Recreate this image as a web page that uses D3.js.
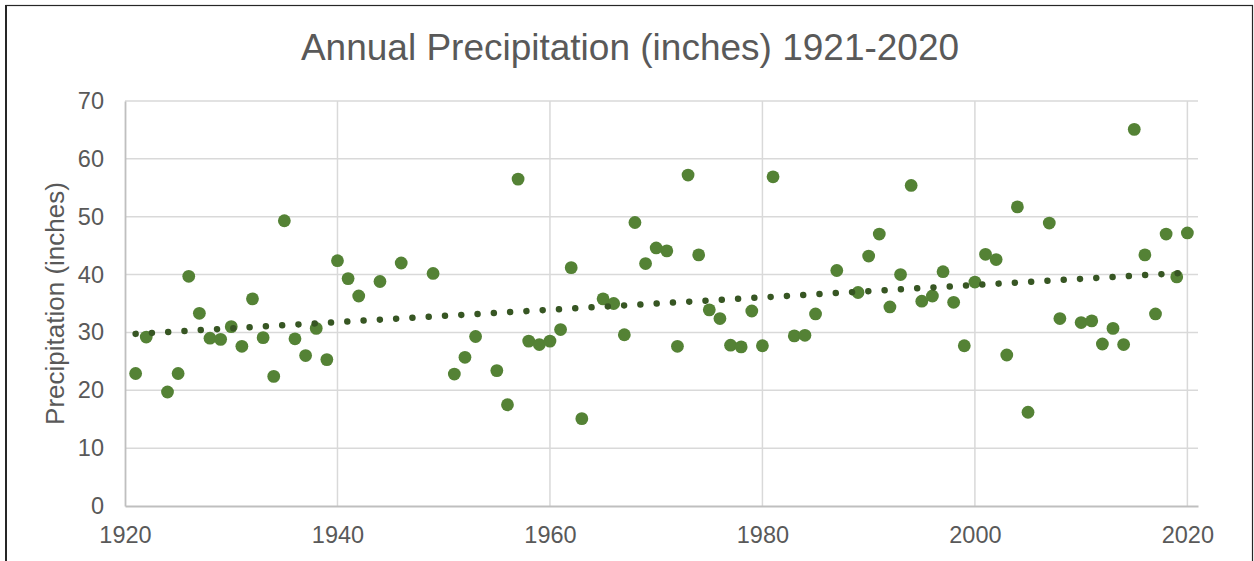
<!DOCTYPE html>
<html>
<head>
<meta charset="utf-8">
<script src="https://cdn.jsdelivr.net/npm/d3@7/dist/d3.min.js"></script>
<style>
  html, body { margin: 0; padding: 0; background: #fff; }
  svg { display: block; font-family: "Liberation Sans", Arial, sans-serif; }
</style>
</head>
<body>
<svg id="chart" width="1254" height="561"></svg>
<script>
const years = [1921,1922,1924,1925,1926,1927,1928,1929,1930,1931,1932,1933,1934,1935,1936,1937,1938,1939,1940,1941,1942,1944,
  1946,1949,1951,1952,1953,1955,1956,1957,1958,1959,1960,1961,1962,1963,1965,1966,1967,1968,1969,1970,1971,1972,
  1973,1974,1975,1976,1977,1978,1979,1980,1981,1983,1984,1985,1987,1989,1990,1991,1992,1993,1994,1995,1996,1997,1998,1999,
  2000,2001,2002,2003,2004,2005,2007,2008,2010,2011,2012,2013,2014,2015,2016,2017,2018,2019,2020];
const precip = [22.9,29.2,19.7,22.9,39.7,33.3,29.0,28.8,31.0,27.6,35.8,29.1,22.4,49.3,28.9,26.0,30.7,25.3,42.4,39.3,36.3,38.8,
  42.0,40.2,22.8,25.7,29.3,23.4,17.5,56.5,28.5,27.9,28.5,30.5,41.2,15.1,35.8,35.0,29.6,49.0,41.9,44.6,44.1,27.6,
  57.2,43.4,33.9,32.4,27.8,27.5,33.7,27.7,56.9,29.4,29.5,33.2,40.7,36.9,43.2,47.0,34.4,40.0,55.4,35.4,36.3,40.5,35.2,27.7,
  38.7,43.5,42.6,26.1,51.7,16.2,48.9,32.4,31.7,32.0,28.0,30.7,27.9,65.1,43.4,33.2,47.0,39.6,47.2];
const xTicks = [1920,1940,1960,1980,2000,2020];
const yTicks = [0,10,20,30,40,50,60,70];
const titleText = "Annual Precipitation (inches) 1921-2020";
const yLabel = "Precipitation (inches)";

const svg = d3.select("#chart");
const L = 125, R = 1198, T = 101, B = 506;
const x = d3.scaleLinear().domain([1920, 2021]).range([L, R]);
const y = d3.scaleLinear().domain([0, 70]).range([B, T]);

// outer border
svg.append("rect").attr("x", 6).attr("y", 5.5).attr("width", 1246.5).attr("height", 600)
  .attr("fill", "none").attr("stroke", "#262626").attr("stroke-width", 1.2);
svg.append("line").attr("x1", 6).attr("x2", 6).attr("y1", 5).attr("y2", 561)
  .attr("stroke", "#262626").attr("stroke-width", 2);

// gridlines
const g = svg.append("g");
g.selectAll(".hg").data(yTicks.filter(d => d > 0)).join("line")
  .attr("x1", L).attr("x2", R).attr("y1", d => y(d)).attr("y2", d => y(d))
  .attr("stroke", "#d9d9d9").attr("stroke-width", 1.5);
g.selectAll(".vg").data(xTicks.filter(d => d > 1920)).join("line")
  .attr("y1", T).attr("y2", B).attr("x1", d => x(d)).attr("x2", d => x(d))
  .attr("stroke", "#d9d9d9").attr("stroke-width", 1.5);

// axes
const fs = 23.5;
const xAxis = d3.axisBottom(x).tickValues(xTicks).tickFormat(d3.format("d")).tickSize(0).tickPadding(20);
const yAxis = d3.axisLeft(y).tickValues(yTicks).tickSize(0).tickPadding(21);
const gx = svg.append("g").attr("transform", `translate(0,${B})`).call(xAxis);
const gy = svg.append("g").attr("transform", `translate(${L},0)`).call(yAxis);
[gx, gy].forEach(a => {
  a.select(".domain").attr("stroke", "#bfbfbf").attr("stroke-width", 1.8);
  a.selectAll("text").attr("fill", "#595959").attr("font-size", fs)
    .attr("font-family", "Liberation Sans, Arial, sans-serif");
});

// trendline (least squares fit of the data)
const n = years.length;
const mx = d3.mean(years), my = d3.mean(precip);
let sxy = 0, sxx = 0;
for (let i = 0; i < n; i++) { sxy += (years[i]-mx)*(precip[i]-my); sxx += (years[i]-mx)**2; }
const slope = sxy / sxx, icpt = my - slope * mx;
const x0 = d3.min(years), x1 = d3.max(years);

// points
svg.append("g").selectAll("circle").data(years).join("circle")
  .attr("cx", d => x(d)).attr("cy", (d, i) => y(precip[i])).attr("r", 6.4)
  .attr("fill", "#548235");

svg.append("line")
  .attr("x1", x(x0)).attr("y1", y(icpt + slope * x0))
  .attr("x2", x(x1)).attr("y2", y(icpt + slope * x1))
  .attr("stroke", "#375623").attr("stroke-width", 6.5)
  .attr("stroke-linecap", "round").attr("stroke-dasharray", "0.01 16.3");

// title
svg.append("text").attr("x", 630).attr("y", 60).attr("text-anchor", "middle")
  .attr("font-size", 37).attr("fill", "#595959").text(titleText);

// y label
svg.append("text").attr("transform", `translate(64,${(T+B)/2}) rotate(-90)`)
  .attr("text-anchor", "middle").attr("font-size", 26).attr("fill", "#595959").text(yLabel);
</script>
</body>
</html>
